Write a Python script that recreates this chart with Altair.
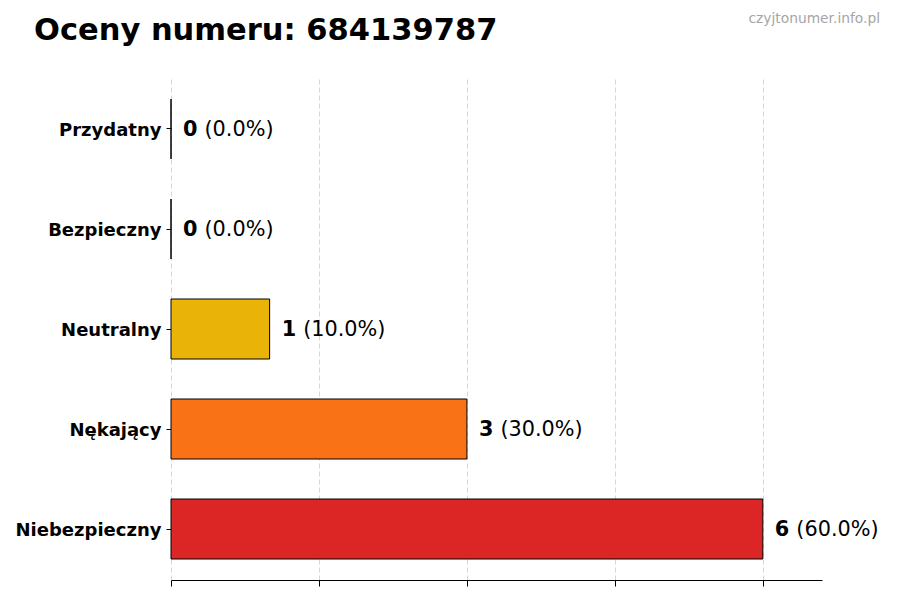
import altair as alt
import pandas as pd

# ---- data ----
categories = ["Przydatny", "Bezpieczny", "Neutralny", "Nękający", "Niebezpieczny"]
counts = [0, 0, 1, 3, 6]
colors = ["#22C55E", "#3B82F6", "#EAB308", "#F97316", "#DC2626"]
x_ticks = [0, 1.5, 3, 4.5, 6]
title_text = "Oceny numeru: 684139787"
watermark_text = "czyjtonumer.info.pl"

total = sum(counts)
df = pd.DataFrame({
    "cat": categories,
    "count": counts,
    "count_lbl": [str(c) for c in counts],
    "pct_lbl": [f"({c / total * 100:.1f}%)" for c in counts],
})

FONT = "DejaVu Sans"

y_enc = alt.Y(
    "cat:N",
    sort=categories,
    scale=alt.Scale(paddingInner=0.4, paddingOuter=0.21),
    axis=alt.Axis(
        title=None, domain=False, ticks=True, tickColor="black", tickSize=5,
        tickWidth=1, labelFont=FONT, labelFontSize=18, labelFontWeight="bold",
        labelColor="black", labelPadding=5, labelOffset=1.5, grid=False,
    ),
)
x_scale = alt.Scale(domain=[0, 6.6], nice=False, zero=True)

bars = alt.Chart(df).mark_bar(stroke="black", strokeWidth=1).encode(
    x=alt.X(
        "count:Q", scale=x_scale,
        axis=alt.Axis(
            title=None, values=x_ticks, labels=False, domain=True,
            domainColor="black", domainWidth=1, ticks=True, tickColor="black",
            tickSize=6, tickWidth=1, grid=True, gridColor="#cccccc",
            gridDash=[5, 3], gridWidth=0.8,
        ),
    ),
    y=y_enc,
    color=alt.Color("cat:N", scale=alt.Scale(domain=categories, range=colors), legend=None),
)

count_text = alt.Chart(df).mark_text(
    align="left", baseline="middle", dx=12, dy=1, font=FONT, fontSize=20.8,
    fontWeight="bold", color="black",
).encode(x=alt.X("count:Q", scale=x_scale), y=alt.Y("cat:N", sort=categories), text="count_lbl:N")

pct_text = alt.Chart(df).mark_text(
    align="left", baseline="middle", dx=33.5, dy=1, font=FONT, fontSize=20.8,
    fontWeight="normal", color="black",
).encode(x=alt.X("count:Q", scale=x_scale), y=alt.Y("cat:N", sort=categories), text="pct_lbl:N")

title = alt.Chart(pd.DataFrame({"t": [title_text]})).mark_text(
    align="left", baseline="alphabetic", font=FONT, fontSize=30.5,
    fontWeight="bold", color="black",
).encode(text="t:N", x=alt.value(-137), y=alt.value(-38.5))

watermark = alt.Chart(pd.DataFrame({"t": [watermark_text]})).mark_text(
    align="right", baseline="alphabetic", font=FONT, fontSize=13.8,
    color="#a6a6a6",
).encode(text="t:N", x=alt.value(709), y=alt.value(-55.5))

chart = alt.layer(bars, count_text, pct_text, title, watermark).properties(
    width=651,
    height=502,
    autosize=alt.AutoSizeParams(type="none"),
    padding={"left": 163, "top": 70, "right": 60, "bottom": 12},
).configure(background="white").configure_view(stroke=None, strokeWidth=0)

chart.save("out.html", embed_options={"renderer": "svg", "actions": False})
